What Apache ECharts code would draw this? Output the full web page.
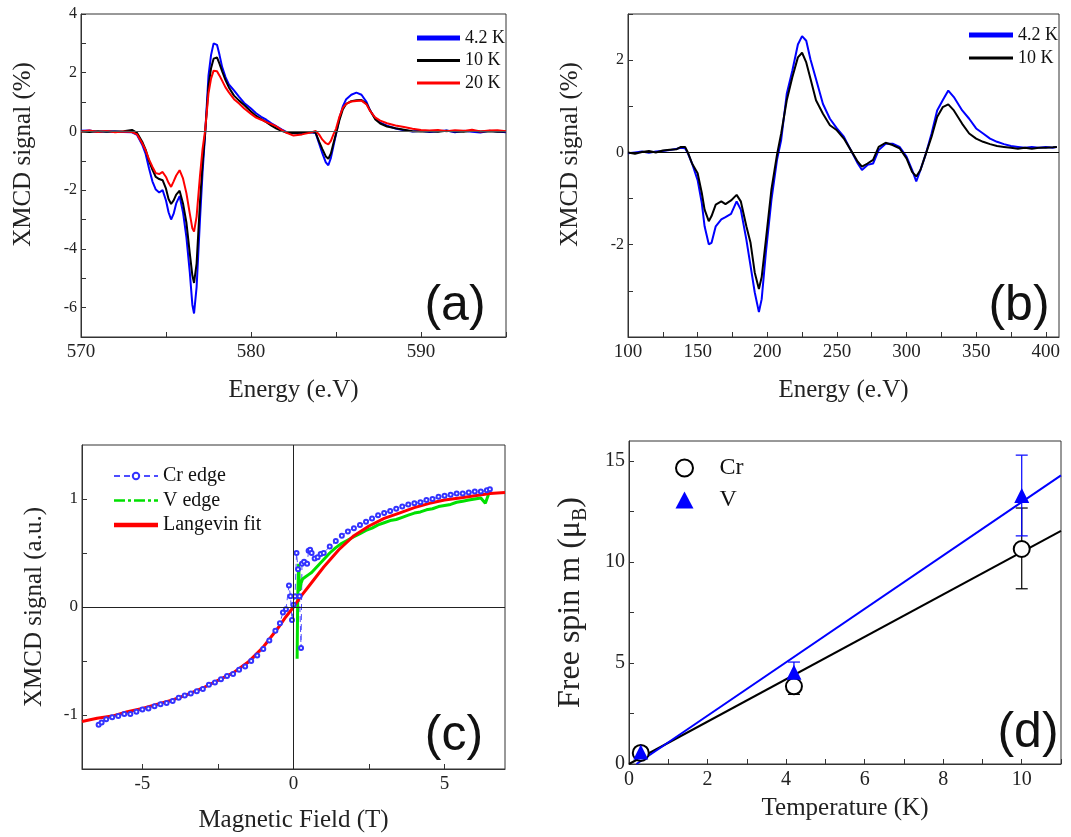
<!DOCTYPE html>
<html>
<head>
<meta charset="utf-8">
<title>XMCD</title>
<script src="https://cdn.jsdelivr.net/npm/echarts@6/dist/echarts.min.js"></script>
<style>
  html, body { margin: 0; padding: 0; background: #fff; }
  #main { width: 1071px; height: 837px; }
</style>
</head>
<body>
<div id="main"></div>
<script>
// ---- (a) Cr L edge, three temperatures ----
var aEnergy = [570, 570.5, 571, 571.5, 572, 572.5, 573, 573.3, 573.6, 573.8,
  574.0, 574.2, 574.4, 574.6, 574.8, 575.0, 575.15, 575.3, 575.45, 575.6,
  575.8, 576.0, 576.2, 576.4, 576.55, 576.65, 576.8, 577.0, 577.15, 577.3,
  577.5, 577.65, 577.8, 578.0, 578.15, 578.3, 578.5, 578.7, 579.0, 579.3,
  579.6, 580.0, 580.3, 580.6, 580.9, 581.2, 581.5, 581.8, 582.1, 582.5,
  583.0, 583.5, 583.8, 584.0, 584.2, 584.4, 584.55, 584.7, 584.85, 585.0,
  585.2, 585.4, 585.6, 585.9, 586.2, 586.5, 586.8, 587.0, 587.3, 587.6,
  588.0, 588.5, 589.0, 589.5, 590, 590.5, 591, 591.5, 592, 592.5,
  593, 593.5, 594, 594.5, 595];
var a42K = [0.02, 0.03, -0.02, 0.01, 0.00, -0.02, -0.03, -0.12, -0.45, -0.76,
  -1.25, -1.70, -1.98, -2.08, -2.00, -2.35, -2.75, -3.00, -2.80, -2.45,
  -2.20, -2.75, -3.60, -4.80, -5.90, -6.20, -5.30, -3.00, -1.40, -0.10,
  1.90, 2.60, 3.00, 2.95, 2.60, 2.20, 1.85, 1.60, 1.40, 1.18,
  0.97, 0.78, 0.62, 0.50, 0.40, 0.28, 0.17, 0.07, -0.02, -0.06,
  -0.05, -0.03, -0.05, -0.40, -0.75, -1.05, -1.15, -0.90, -0.50, -0.10,
  0.45, 0.85, 1.10, 1.25, 1.32, 1.25, 1.00, 0.72, 0.45, 0.30,
  0.20, 0.10, 0.04, 0.00, 0.02, -0.02, 0.01, 0.03, -0.03, 0.02,
  -0.01, -0.04, 0.02, 0.00, -0.03];
var a10K = [0.00, -0.02, 0.01, -0.01, 0.00, 0.01, 0.05, -0.05, -0.35, -0.62,
  -1.00, -1.30, -1.55, -1.62, -1.66, -1.95, -2.30, -2.47, -2.35, -2.15,
  -2.02, -2.45, -3.10, -4.15, -4.90, -5.16, -4.50, -2.40, -1.10, -0.08,
  1.55, 2.15, 2.48, 2.52, 2.30, 2.05, 1.75, 1.50, 1.22, 1.05,
  0.90, 0.68, 0.53, 0.42, 0.32, 0.20, 0.10, 0.02, -0.04, -0.05,
  -0.04, -0.02, -0.04, -0.34, -0.60, -0.85, -0.93, -0.75, -0.40, -0.08,
  0.38, 0.75, 0.94, 1.03, 1.06, 1.07, 0.94, 0.72, 0.42, 0.27,
  0.17, 0.11, 0.06, 0.01, 0.00, 0.01, -0.01, 0.02, 0.00, -0.01,
  0.02, 0.00, 0.01, -0.01, 0.00];
var a20K = [0.00, 0.03, -0.02, 0.02, -0.03, 0.00, -0.02, -0.10, -0.40, -0.64,
  -0.95, -1.20, -1.42, -1.45, -1.38, -1.55, -1.75, -1.89, -1.70, -1.50,
  -1.32, -1.60, -2.10, -2.80, -3.30, -3.41, -2.90, -1.50, -0.60, 0.03,
  1.30, 1.80, 2.07, 2.05, 1.90, 1.73, 1.50, 1.33, 1.10, 0.95,
  0.78, 0.60, 0.47, 0.40, 0.32, 0.25, 0.17, 0.05, -0.05, -0.14,
  -0.10, -0.04, 0.02, -0.10, -0.28, -0.40, -0.44, -0.32, -0.10, 0.09,
  0.50, 0.80, 0.94, 1.02, 1.04, 1.05, 0.92, 0.70, 0.48, 0.37,
  0.28, 0.20, 0.15, 0.09, 0.05, 0.03, 0.05, 0.01, 0.04, 0.02,
  0.06, 0.00, 0.03, 0.04, 0.01];
var aXTicks = [570, 575, 580, 585, 590, 595];
var aXLabels = [570, 580, 590];
var aYTicks = [-7, -6, -5, -4, -3, -2, -1, 0, 1, 2, 3, 4];
var aYLabels = [-6, -4, -2, 0, 2, 4];

// ---- (b) V L edge, two temperatures ----
var bEnergy = [100, 105, 110, 115, 120, 125, 130, 135, 138, 141,
  143, 146, 150, 153, 155, 158, 160, 163, 167, 170,
  174, 178, 181, 185, 188, 191, 194, 196, 199, 203,
  207, 210, 214, 218, 222, 225, 228, 231, 235, 240,
  245, 250, 255, 260, 265, 268, 272, 276, 280, 285,
  290, 295, 300, 304, 307, 310, 314, 318, 322, 326,
  330, 334, 340, 345, 350, 355, 360, 365, 370, 375,
  380, 385, 390, 395, 400, 405, 408];
var b42K = [-0.02, 0.00, 0.02, -0.01, 0.02, 0.03, 0.05, 0.08, 0.10, 0.09,
  -0.02, -0.24, -0.60, -1.10, -1.60, -1.99, -1.96, -1.60, -1.45, -1.40,
  -1.33, -1.06, -1.24, -1.89, -2.46, -3.03, -3.46, -3.18, -2.17, -1.03,
  -0.16, 0.27, 1.27, 1.77, 2.34, 2.52, 2.42, 2.02, 1.59, 1.05,
  0.73, 0.52, 0.34, 0.05, -0.24, -0.38, -0.27, -0.24, 0.05, 0.19,
  0.19, 0.12, -0.09, -0.38, -0.63, -0.38, -0.02, 0.41, 0.91, 1.13,
  1.34, 1.20, 0.91, 0.73, 0.52, 0.41, 0.30, 0.23, 0.18, 0.14,
  0.12, 0.10, 0.12, 0.10, 0.12, 0.10, 0.12];
var b10K = [0.00, -0.03, 0.01, 0.03, 0.00, 0.04, 0.06, 0.07, 0.12, 0.12,
  0.00, -0.24, -0.45, -0.88, -1.24, -1.49, -1.38, -1.13, -1.06, -1.12,
  -1.04, -0.92, -1.06, -1.60, -1.96, -2.60, -2.96, -2.70, -1.90, -0.80,
  -0.05, 0.41, 1.13, 1.63, 2.06, 2.16, 1.95, 1.60, 1.13, 0.84,
  0.59, 0.48, 0.30, 0.05, -0.20, -0.31, -0.24, -0.16, 0.12, 0.21,
  0.16, 0.09, -0.13, -0.42, -0.52, -0.38, -0.02, 0.34, 0.77, 0.98,
  1.04, 0.91, 0.62, 0.41, 0.30, 0.23, 0.18, 0.14, 0.12, 0.10,
  0.08, 0.10, 0.08, 0.10, 0.10, 0.11, 0.12];
var bXTicks = [100, 125, 150, 175, 200, 225, 250, 275, 300, 325, 350, 375, 400];
var bXLabels = [100, 150, 200, 250, 300, 350, 400];
var bYTicks = [-4, -3, -2, -1, 0, 1, 2, 3];
var bYLabels = [-2, 0, 2];

// ---- (c) magnetisation curves ----
var cField = [-7, -6.5, -6, -5.5, -5, -4.5, -4, -3.5, -3, -2.5, -2, -1.5, -1, -0.75, -0.5, -0.25,
  0, 0.25, 0.5, 0.75, 1, 1.5, 2, 2.5, 3, 3.5, 4, 4.5, 5, 5.5, 6, 6.5, 7];
var cFit = [-1.06, -1.03, -1.01, -0.97, -0.94, -0.90, -0.86, -0.81, -0.75, -0.68, -0.61, -0.51, -0.37, -0.28, -0.19, -0.09,
  0.00, 0.10, 0.19, 0.28, 0.37, 0.53, 0.66, 0.75, 0.82, 0.87, 0.92, 0.96, 0.99, 1.01, 1.03, 1.05, 1.06];
var cCrEdge = [[-6.45, -1.09], [-6.35, -1.07], [-6.2, -1.04], [-6.0, -1.02], [-5.8, -1.01], [-5.6, -0.99],
  [-5.4, -0.99], [-5.2, -0.97], [-5.0, -0.95], [-4.8, -0.94], [-4.6, -0.92], [-4.4, -0.90],
  [-4.2, -0.89], [-4.0, -0.87], [-3.8, -0.84], [-3.6, -0.82], [-3.4, -0.80], [-3.2, -0.78],
  [-3.0, -0.76], [-2.8, -0.72], [-2.6, -0.70], [-2.4, -0.67], [-2.2, -0.64], [-2.0, -0.62],
  [-1.8, -0.58], [-1.6, -0.55], [-1.4, -0.50], [-1.2, -0.45], [-1.0, -0.39], [-0.8, -0.31],
  [-0.6, -0.22], [-0.45, -0.15], [-0.35, -0.05], [-0.25, -0.02], [-0.15, 0.20], [-0.1, 0.10],
  [-0.05, -0.12], [0.0, 0.02], [0.05, 0.10], [0.1, 0.50], [0.15, 0.35], [0.2, 0.10],
  [0.25, -0.38], [0.28, 0.40], [0.35, 0.42], [0.45, 0.40], [0.5, 0.52], [0.55, 0.53],
  [0.6, 0.50], [0.7, 0.45], [0.8, 0.46], [0.9, 0.49], [1.0, 0.50], [1.2, 0.56],
  [1.4, 0.61], [1.6, 0.66], [1.8, 0.70], [2.0, 0.73], [2.2, 0.76], [2.4, 0.79],
  [2.6, 0.82], [2.8, 0.85], [3.0, 0.87], [3.2, 0.89], [3.4, 0.91], [3.6, 0.93],
  [3.8, 0.95], [4.0, 0.96], [4.2, 0.97], [4.4, 0.99], [4.6, 1.00], [4.8, 1.02],
  [5.0, 1.03], [5.2, 1.04], [5.4, 1.05], [5.6, 1.05], [5.8, 1.06], [6.0, 1.07],
  [6.2, 1.07], [6.4, 1.08], [6.5, 1.09]];
var cVEdge = [[0.12, -0.48], [0.14, 0.10], [0.17, 0.40], [0.2, 0.15], [0.25, 0.22], [0.3, 0.26],
  [0.4, 0.28], [0.5, 0.30], [0.6, 0.32], [0.8, 0.38], [1.0, 0.44], [1.2, 0.50],
  [1.4, 0.55], [1.6, 0.59], [1.8, 0.62], [2.0, 0.65], [2.2, 0.68], [2.4, 0.71],
  [2.6, 0.73], [2.8, 0.76], [3.0, 0.78], [3.2, 0.80], [3.4, 0.81], [3.6, 0.83],
  [3.8, 0.85], [4.0, 0.87], [4.2, 0.88], [4.4, 0.90], [4.6, 0.91], [4.8, 0.93],
  [5.0, 0.94], [5.2, 0.95], [5.4, 0.97], [5.6, 0.98], [5.8, 0.99], [6.0, 1.00],
  [6.2, 1.01], [6.35, 0.96], [6.45, 1.04]];
var cXTicks = [-5, -2.5, 0, 2.5, 5];
var cXLabels = [-5, 0, 5];
var cYTicks = [-1, -0.5, 0, 0.5, 1];
var cYLabels = [-1, 0, 1];

// ---- (d) free spin vs temperature ----
var dTemp = [0.3, 4.2, 10];
var dCr = [0.55, 3.85, 10.65];
var dCrLow = [0.45, 3.45, 8.68];
var dCrHigh = [0.65, 4.25, 12.68];
var dV = [0.6, 4.55, 13.3];
var dVLow = [0.5, 3.9, 11.3];
var dVHigh = [0.7, 5.05, 15.3];
var dCrFit = [[0, 0], [11, 11.55]];
var dVFit = [[0.19, 0], [11, 14.3]];
var dXTicks = [0, 1, 2, 3, 4, 5, 6, 7, 8, 9, 10, 11];
var dXLabels = [0, 2, 4, 6, 8, 10];
var dYTicks = [0, 2.5, 5, 7.5, 10, 12.5, 15];
var dYLabels = [0, 5, 10, 15];

var SERIF = "'Liberation Serif', 'DejaVu Serif', serif";
var SANS = "'Liberation Sans', Arial, sans-serif";

// legend line icons (solid bars of a given thickness, dash-dot for V edge)
var ICON_THICK = 'path://M0,0H44V5H0Z';
var ICON_THIN = 'path://M0,0H44V3H0Z';
var ICON_FIT = 'path://M0,0H44V4.5H0Z';
var ICON_DASHDOT = 'path://M0,0H11V2.5H0Z M14,0H17V2.5H14Z M20,0H31V2.5H20Z M34,0H37V2.5H34Z M40,0H44V2.5H40Z';

function pairs(xs, ys) {
  return xs.map(function (x, i) { return [x, ys[i]]; });
}

// axis builder, same look for all four panels
function axis(grid, min, max, ticks, labels, name, gap, opt) {
  opt = opt || {};
  return {
    type: 'value',
    gridIndex: grid,
    min: min,
    max: max,
    name: name,
    nameLocation: 'middle',
    nameGap: gap,
    nameTextStyle: Object.assign({ fontFamily: SERIF, fontSize: opt.nameSize || 25, color: '#222' }, opt.nameStyle || {}),
    axisLine: { show: true, onZero: false, lineStyle: { color: '#333', width: 1 } },
    axisTick: { show: true, inside: true, length: 5, customValues: ticks, lineStyle: { color: '#333' } },
    axisLabel: { customValues: labels, fontFamily: SERIF, fontSize: opt.labelSize || 19, color: '#222', margin: opt.margin || 6 },
    splitLine: { show: false }
  };
}

function zeroLine(data, color) {
  return {
    silent: true,
    symbol: 'none',
    label: { show: false },
    lineStyle: { color: color, width: 1, type: 'solid' },
    data: data
  };
}

// error bars for panel (d)
function errorBars(low, high, color) {
  return {
    type: 'custom',
    xAxisIndex: 3,
    yAxisIndex: 3,
    silent: true,
    z: 3,
    encode: { x: 0, y: [1, 2] },
    data: dTemp.map(function (t, i) { return [t, low[i], high[i]]; }),
    renderItem: function (params, api) {
      var top = api.coord([api.value(0), api.value(2)]);
      var bot = api.coord([api.value(0), api.value(1)]);
      var w = 6;
      var st = { stroke: color, lineWidth: 1.2 };
      return {
        type: 'group',
        children: [
          { type: 'line', shape: { x1: top[0], y1: top[1], x2: bot[0], y2: bot[1] }, style: st },
          { type: 'line', shape: { x1: top[0] - w, y1: top[1], x2: top[0] + w, y2: top[1] }, style: st },
          { type: 'line', shape: { x1: bot[0] - w, y1: bot[1], x2: bot[0] + w, y2: bot[1] }, style: st }
        ]
      };
    }
  };
}

var chart = echarts.init(document.getElementById('main'));

var option = {
  animation: false,
  backgroundColor: '#fff',
  grid: [
    { left: 81, top: 14, width: 425, height: 323, show: true, borderColor: '#333', borderWidth: 1 },
    { left: 628, top: 14, width: 431, height: 323, show: true, borderColor: '#333', borderWidth: 1 },
    { left: 82, top: 445, width: 423, height: 324, show: true, borderColor: '#333', borderWidth: 1 },
    { left: 629, top: 441, width: 432, height: 323, show: true, borderColor: '#333', borderWidth: 1 }
  ],
  xAxis: [
    axis(0, 570, 595, aXTicks, aXLabels, 'Energy (e.V)', 41),
    axis(1, 100, 409.5, bXTicks, bXLabels, 'Energy (e.V)', 41),
    axis(2, -7, 7, cXTicks, cXLabels, 'Magnetic Field (T)', 39),
    axis(3, 0, 11, dXTicks, dXLabels, 'Temperature (K)', 32, { labelSize: 20 })
  ],
  yAxis: [
    axis(0, -7, 4, aYTicks, aYLabels, 'XMCD signal (%)', 45, { margin: 4, labelSize: 16, nameStyle: { padding: [0, 0, 0, 42] } }),
    axis(1, -4, 3, bYTicks, bYLabels, 'XMCD signal (%)', 45, { margin: 4, labelSize: 16, nameStyle: { padding: [0, 0, 0, 42] } }),
    axis(2, -1.5, 1.5, cYTicks, cYLabels, 'XMCD signal (a.u.)', 35, { margin: 4, labelSize: 17 }),
    axis(3, 0, 16, dYTicks, dYLabels, 'Free spin m (μ{sub|B})', 38, {
      labelSize: 20, margin: 4, nameSize: 32,
      nameStyle: { lineHeight: 40, rich: { sub: { fontFamily: SERIF, fontSize: 20, lineHeight: 20, verticalAlign: 'bottom', color: '#222' } } }
    })
  ],
  legend: [
    {
      orient: 'vertical', left: 417, top: 29, padding: 0, itemWidth: 43, itemHeight: 10, itemGap: 4.5,
      textStyle: { fontFamily: SERIF, fontSize: 18, color: '#111' },
      data: [
        { name: '4.2 K', icon: ICON_THICK },
        { name: '10 K', icon: ICON_THIN },
        { name: '20 K', icon: ICON_THIN }
      ]
    },
    {
      orient: 'vertical', left: 969, top: 26, padding: 0, itemWidth: 44, itemHeight: 10, itemGap: 5,
      textStyle: { fontFamily: SERIF, fontSize: 18, color: '#111' },
      data: [
        { name: '4.2 K', icon: ICON_THICK },
        { name: '10 K', icon: ICON_THIN }
      ]
    },
    {
      orient: 'vertical', left: 113, top: 466, padding: 0, itemWidth: 44, itemHeight: 8, itemGap: 4.5,
      textStyle: { fontFamily: SERIF, fontSize: 20, color: '#111' },
      data: [
        { name: 'Cr edge' },
        { name: 'V edge', icon: ICON_DASHDOT },
        { name: 'Langevin fit', icon: ICON_FIT }
      ]
    },
    {
      orient: 'vertical', left: 675, top: 456, padding: 0, itemWidth: 18, itemHeight: 17, itemGap: 8,
      textStyle: { fontFamily: SERIF, fontSize: 24, color: '#111', padding: [0, 0, 0, 21] },
      data: ['Cr', 'V']
    }
  ],
  graphic: [
    { type: 'text', x: 455, y: 306, style: { text: '(a)', font: '50px ' + SANS, fill: '#111', textAlign: 'center', verticalAlign: 'middle' } },
    { type: 'text', x: 1019, y: 306, style: { text: '(b)', font: '50px ' + SANS, fill: '#111', textAlign: 'center', verticalAlign: 'middle' } },
    { type: 'text', x: 454, y: 736, style: { text: '(c)', font: '50px ' + SANS, fill: '#111', textAlign: 'center', verticalAlign: 'middle' } },
    { type: 'text', x: 1028, y: 733, style: { text: '(d)', font: '50px ' + SANS, fill: '#111', textAlign: 'center', verticalAlign: 'middle' } }
  ],
  series: [
    // (a)
    {
      name: '4.2 K', type: 'line', xAxisIndex: 0, yAxisIndex: 0, symbol: 'none',
      data: pairs(aEnergy, a42K),
      lineStyle: { color: '#0000ff', width: 2 }, itemStyle: { color: '#0000ff' },
      markLine: zeroLine([{ yAxis: 0 }], '#555')
    },
    {
      name: '10 K', type: 'line', xAxisIndex: 0, yAxisIndex: 0, symbol: 'none',
      data: pairs(aEnergy, a10K),
      lineStyle: { color: '#000', width: 2 }, itemStyle: { color: '#000' }
    },
    {
      name: '20 K', type: 'line', xAxisIndex: 0, yAxisIndex: 0, symbol: 'none',
      data: pairs(aEnergy, a20K),
      lineStyle: { color: '#ff0000', width: 2 }, itemStyle: { color: '#ff0000' }
    },
    // (b)
    {
      name: '4.2 K', type: 'line', xAxisIndex: 1, yAxisIndex: 1, symbol: 'none',
      data: pairs(bEnergy, b42K),
      lineStyle: { color: '#0000ff', width: 2 }, itemStyle: { color: '#0000ff' },
      markLine: zeroLine([{ yAxis: 0 }], '#000')
    },
    {
      name: '10 K', type: 'line', xAxisIndex: 1, yAxisIndex: 1, symbol: 'none',
      data: pairs(bEnergy, b10K),
      lineStyle: { color: '#000', width: 2 }, itemStyle: { color: '#000' }
    },
    // (c)
    {
      name: 'Cr edge', type: 'line', xAxisIndex: 2, yAxisIndex: 2,
      symbol: 'emptyCircle', symbolSize: 4, showAllSymbol: true,
      data: cCrEdge,
      lineStyle: { color: '#4d4dff', width: 1, type: [6, 4] },
      itemStyle: { color: '#3333ff', borderWidth: 1 },
      markLine: zeroLine([{ yAxis: 0 }, { xAxis: 0 }], '#222')
    },
    {
      name: 'V edge', type: 'line', xAxisIndex: 2, yAxisIndex: 2, symbol: 'none',
      data: cVEdge,
      lineStyle: { color: '#00e000', width: 3 }, itemStyle: { color: '#00e000' }
    },
    {
      name: 'Langevin fit', type: 'line', xAxisIndex: 2, yAxisIndex: 2, symbol: 'none',
      data: pairs(cField, cFit),
      lineStyle: { color: '#ff0000', width: 3 }, itemStyle: { color: '#ff0000' }
    },
    // (d)
    {
      name: 'Cr fit', type: 'line', xAxisIndex: 3, yAxisIndex: 3, symbol: 'none',
      data: dCrFit, lineStyle: { color: '#000', width: 2 }
    },
    {
      name: 'V fit', type: 'line', xAxisIndex: 3, yAxisIndex: 3, symbol: 'none',
      data: dVFit, lineStyle: { color: '#0000ff', width: 2 }
    },
    errorBars(dCrLow, dCrHigh, '#000'),
    errorBars(dVLow, dVHigh, '#0000ff'),
    {
      name: 'Cr', type: 'scatter', xAxisIndex: 3, yAxisIndex: 3, z: 4,
      symbol: 'emptyCircle', symbolSize: 16,
      data: pairs(dTemp, dCr),
      itemStyle: { color: '#000', borderColor: '#000', borderWidth: 1.2, opacity: 1 }
    },
    {
      name: 'V', type: 'scatter', xAxisIndex: 3, yAxisIndex: 3, z: 5,
      symbol: 'triangle', symbolSize: 15,
      data: pairs(dTemp, dV),
      itemStyle: { color: '#0000ff', opacity: 1 }
    }
  ]
};

chart.setOption(option);
</script>
</body>
</html>
